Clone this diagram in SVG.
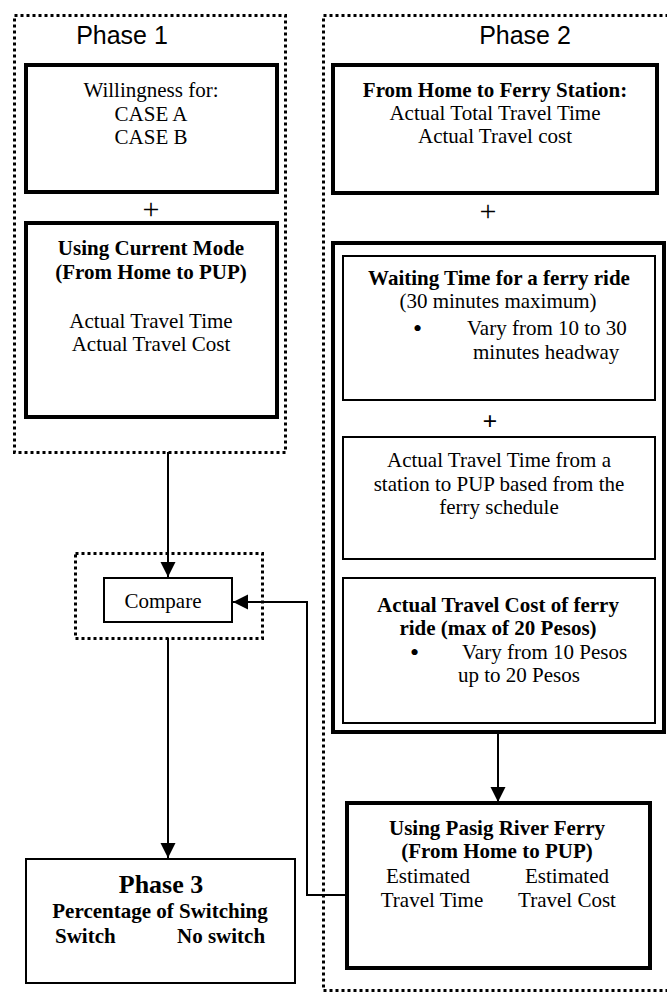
<svg xmlns="http://www.w3.org/2000/svg" width="667" height="994" viewBox="0 0 667 994">
<style>
  .dot { fill: none; stroke: #000; stroke-width: 3; stroke-dasharray: 3 3; }
  .thick { fill: #fff; stroke: #000; stroke-width: 4; }
  .thin { fill: #fff; stroke: #000; stroke-width: 2; }
  .t { font-family: "Liberation Serif", "Times New Roman", serif; font-size: 21px; fill: #000; }
  .b { font-weight: bold; }
  .c { text-anchor: middle; }
  .h { font-family: "Liberation Sans", Arial, sans-serif; font-size: 25px; fill: #000; text-anchor: middle; }
  .line { fill: none; stroke: #000; stroke-width: 2; }
</style>
<defs>
  <marker id="arr" markerUnits="userSpaceOnUse" markerWidth="16" markerHeight="16" viewBox="0 0 16 16" refX="15" refY="8" orient="auto">
    <path d="M0,0.5 L15,8 L0,15.5 Z" fill="#000"/>
  </marker>
</defs>
<rect width="667" height="994" fill="#fff"/>

<g id="phase1">
  <rect class="dot" x="14.5" y="15.5" width="271" height="437"/>
  <text class="h" x="122" y="44">Phase 1</text>
</g>
<g id="willingness">
  <rect class="thick" x="26" y="65" width="251" height="127"/>
  <text class="t c" x="151" y="97">Willingness for:</text>
  <text class="t c" x="151" y="121">CASE A</text>
  <text class="t c" x="151" y="144">CASE B</text>
</g>
<text class="t c" x="151" y="219" style="font-size:30px">+</text>
<g id="current-mode">
  <rect class="thick" x="26" y="223" width="251" height="194"/>
  <text class="t b c" x="151" y="255">Using Current Mode</text>
  <text class="t b c" x="151" y="279">(From Home to PUP)</text>
  <text class="t c" x="151" y="328">Actual Travel Time</text>
  <text class="t c" x="151" y="351">Actual Travel Cost</text>
</g>

<g id="phase2">
  <rect class="dot" x="323.5" y="15.5" width="360" height="975"/>
  <text class="h" x="525" y="44">Phase 2</text>
</g>
<g id="home-to-station">
  <rect class="thick" x="333" y="65" width="324" height="128"/>
  <text class="t b c" x="495" y="97">From Home to Ferry Station:</text>
  <text class="t c" x="495" y="120">Actual Total Travel Time</text>
  <text class="t c" x="495" y="143">Actual Travel cost</text>
</g>
<text class="t c" x="488" y="221" style="font-size:30px">+</text>
<g id="ferry-components">
  <rect class="thick" x="333" y="243" width="331" height="489"/>
</g>
<g id="waiting-time">
  <rect class="thin" x="343" y="256" width="312" height="144"/>
  <text class="t b c" x="499" y="285">Waiting Time for a ferry ride</text>
  <text class="t c" x="498" y="308">(30 minutes maximum)</text>
  <text class="t" x="413" y="337" style="font-size:26px">•</text>
  <text class="t" x="467" y="335">Vary from 10 to 30</text>
  <text class="t" x="473" y="359">minutes headway</text>
</g>
<text class="t b c" x="490" y="430" style="font-size:26px">+</text>
<g id="travel-time">
  <rect class="thin" x="343" y="437" width="312" height="122"/>
  <text class="t c" x="499" y="467">Actual Travel Time from a</text>
  <text class="t c" x="499" y="491">station to PUP based from the</text>
  <text class="t c" x="499" y="514">ferry schedule</text>
</g>
<g id="travel-cost">
  <rect class="thin" x="343" y="578" width="312" height="145"/>
  <text class="t b c" x="498" y="612">Actual Travel Cost of ferry</text>
  <text class="t b c" x="498" y="635">ride (max of 20 Pesos)</text>
  <text class="t" x="410" y="661" style="font-size:26px">•</text>
  <text class="t" x="462" y="659">Vary from 10 Pesos</text>
  <text class="t" x="458" y="682">up to 20 Pesos</text>
</g>
<g id="pasig-ferry">
  <rect class="thick" x="347" y="803" width="303" height="165"/>
  <text class="t b c" x="497" y="835">Using Pasig River Ferry</text>
  <text class="t b c" x="497" y="858">(From Home to PUP)</text>
  <text class="t c" x="428" y="883">Estimated</text>
  <text class="t c" x="567" y="883">Estimated</text>
  <text class="t c" x="432" y="907">Travel Time</text>
  <text class="t c" x="567" y="907">Travel Cost</text>
</g>

<g id="compare">
  <rect class="dot" x="75.5" y="553.5" width="187" height="85"/>
  <rect class="thin" x="104" y="578" width="128" height="44"/>
  <text class="t c" x="163" y="608">Compare</text>
</g>
<g id="phase3">
  <rect class="thin" x="26" y="859" width="269" height="124"/>
  <text class="t b c" x="161" y="893" style="font-size:26px">Phase 3</text>
  <text class="t b c" x="160" y="918">Percentage of Switching</text>
  <text class="t b" x="55" y="943">Switch</text>
  <text class="t b" x="177" y="943">No switch</text>
</g>

<g id="connectors">
  <path class="line" d="M168,452 V577" marker-end="url(#arr)"/>
  <path class="line" d="M168,638 V858" marker-end="url(#arr)"/>
  <path class="line" d="M498,734 V802" marker-end="url(#arr)"/>
  <path class="line" d="M347,895 H307 V602 H233" marker-end="url(#arr)"/>
</g>
</svg>
